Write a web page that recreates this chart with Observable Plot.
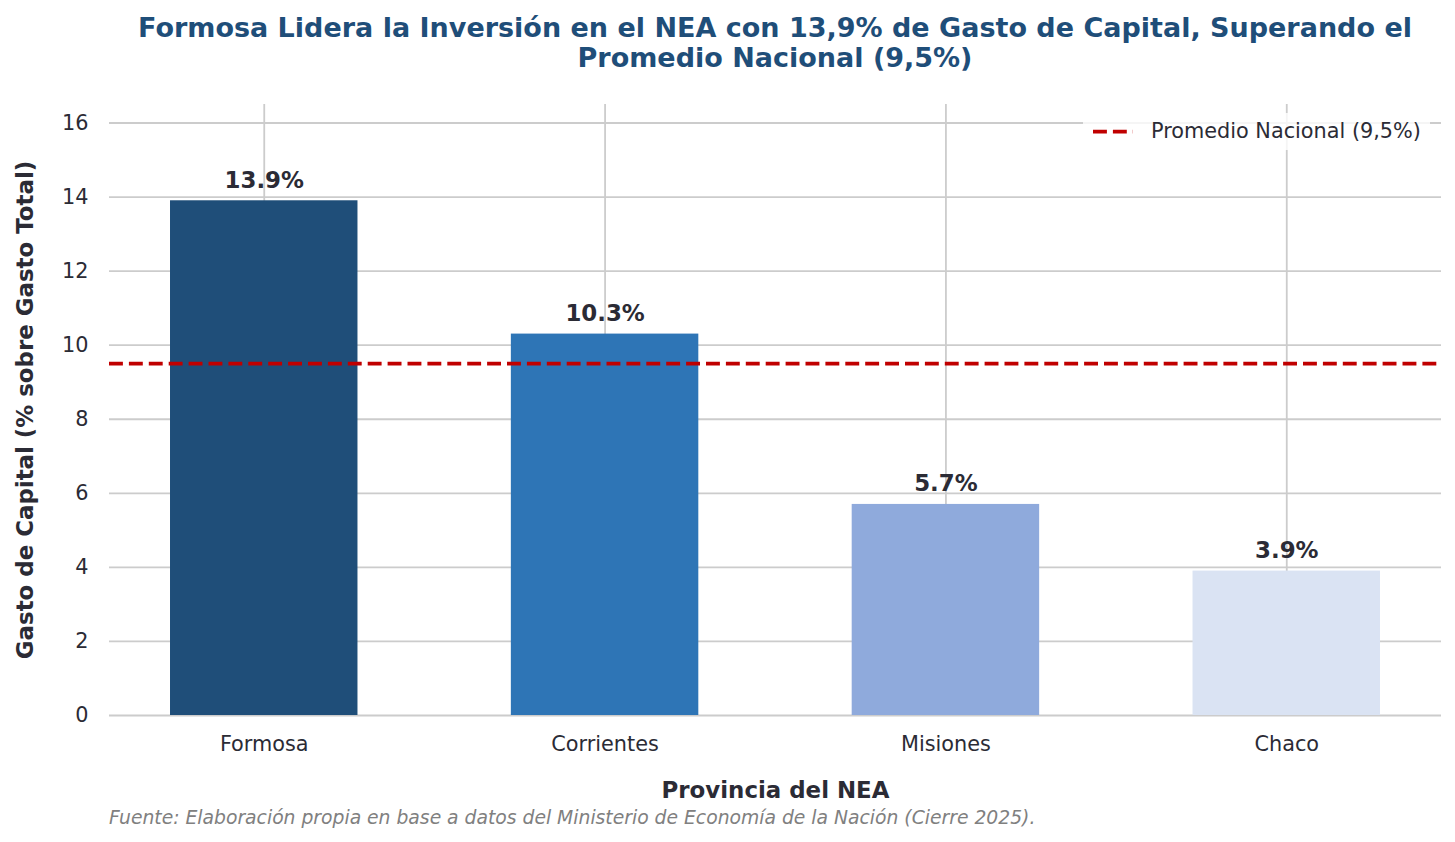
<!DOCTYPE html>
<html>
<head>
<meta charset="utf-8">
<script src="https://cdn.jsdelivr.net/npm/d3@7"></script>
<script src="https://cdn.jsdelivr.net/npm/@observablehq/plot@0.6"></script>
<style>
  html, body { margin: 0; padding: 0; background: #ffffff; }
  body { width: 1455px; height: 842px; position: relative; overflow: hidden; font-family: "DejaVu Sans", sans-serif; }
  #title {
    box-sizing: border-box; width: 1455px; height: 90px;
    padding: 13px 14px 0 109px; text-align: center;
    font-weight: bold; font-size: 27px; line-height: 30px; color: #1f4e79;
    white-space: nowrap;
  }
  #chart { height: 712px; }
  #chart svg { display: block; }
  #caption {
    box-sizing: border-box; padding-left: 109px; padding-top: 5px;
    font-style: italic; font-size: 18.75px; line-height: 22px; color: #808080; white-space: nowrap;
  }
  #legend {
    position: absolute; left: 1083px; top: 113px; width: 347px; height: 37px;
    background: rgba(255,255,255,0.8); border-radius: 4px;
  }
  #legend svg { position: absolute; left: 0; top: 0; }
  #legend span {
    position: absolute; left: 68px; top: 0; line-height: 37px;
    font-size: 20.8px; color: #2b2b35;
  }
</style>
</head>
<body>
<div id="title">Formosa Lidera la Inversión en el NEA con 13,9% de Gasto de Capital, Superando el<br>Promedio Nacional (9,5%)</div>
<div id="chart"></div>
<div id="caption">Fuente: Elaboración propia en base a datos del Ministerio de Economía de la Nación (Cierre 2025).</div>
<div id="legend">
  <svg width="60" height="37"><line x1="10" x2="50" y1="18.5" y2="18.5" stroke="#c00000" stroke-width="3.75" stroke-dasharray="13.9,6"></line></svg>
  <span>Promedio Nacional (9,5%)</span>
</div>
<script>
// ---- Data ----
const provincias = ["Formosa", "Corrientes", "Misiones", "Chaco"];
const gastoCapital = [13.9, 10.3, 5.7, 3.9];
const etiquetas = ["13.9%", "10.3%", "5.7%", "3.9%"];
const colores = ["#1F4E79", "#2E75B6", "#8FAADC", "#DAE3F3"];
const promedioNacional = [9.5];
const yTicks = [0, 2, 4, 6, 8, 10, 12, 14, 16];
const yLabel = ["Gasto de Capital (% sobre Gasto Total)"];
const xLabel = ["Provincia del NEA"];

const data = provincias.map((p, i) => ({provincia: p, valor: gastoCapital[i], etiqueta: etiquetas[i]}));
const textColor = "#2b2b35";
const gridColor = "#cccccc";

const chart = Plot.plot({
  width: 1455,
  height: 712,
  marginTop: 14,
  marginRight: 14,
  marginBottom: 87,
  marginLeft: 109,
  style: {fontFamily: "DejaVu Sans", fontSize: "20.8px", color: textColor, background: "white", overflow: "visible"},
  x: {domain: provincias, paddingInner: 0.45, paddingOuter: 0.179, round: false, label: null},
  y: {domain: [0, 16.5], label: null},
  color: {domain: provincias, range: colores},
  marks: [
    Plot.gridY(yTicks, {stroke: gridColor, strokeOpacity: 1, strokeWidth: 1.8}),
    Plot.gridX(provincias, {stroke: gridColor, strokeOpacity: 1, strokeWidth: 1.8}),
    Plot.barY(data, {x: "provincia", y: "valor", fill: "provincia"}),
    Plot.ruleY(promedioNacional, {stroke: "#c00000", strokeWidth: 3.75, strokeDasharray: "13.9,6"}),
    Plot.text(data, {x: "provincia", y: "valor", text: "etiqueta", dy: -13, lineAnchor: "bottom",
      fontWeight: "bold", fontSize: 22.9, fill: textColor}),
    Plot.axisX({tickSize: 0, tickPadding: 21, label: null, fill: textColor}),
    Plot.axisY({ticks: yTicks, tickSize: 0, tickPadding: 21, label: null, fill: textColor}),
    Plot.text(yLabel, {frameAnchor: "left", rotate: -90, dx: -84, lineAnchor: "middle", textAnchor: "middle",
      fontWeight: "bold", fontSize: 22.9, fill: textColor}),
    Plot.text(xLabel, {frameAnchor: "bottom", dy: 75, lineAnchor: "middle", textAnchor: "middle",
      fontWeight: "bold", fontSize: 22.9, fill: textColor})
  ]
});
document.getElementById("chart").appendChild(chart);
</script>
</body>
</html>
